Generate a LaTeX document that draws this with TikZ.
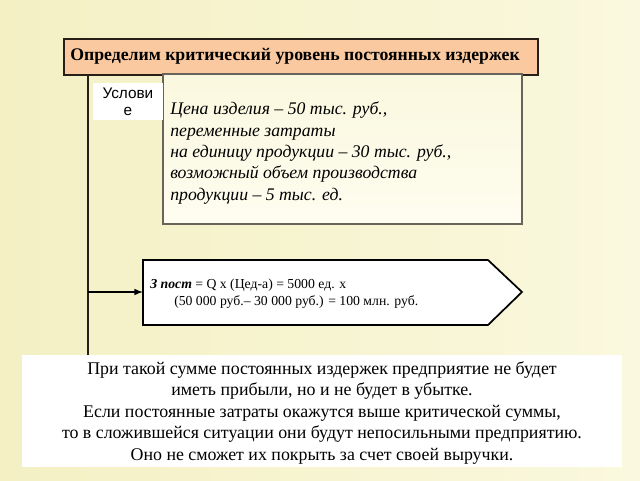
\documentclass[tikz,border=0pt]{standalone}
\usepackage{fontspec}
\setmainfont{Liberation Serif}
\newfontfamily\sansru{Liberation Sans}
\usepackage{tikz}

\definecolor{bgyellow}{RGB}{244,240,196}
\definecolor{bglight}{RGB}{250,248,222}
\definecolor{peach}{RGB}{250,201,160}
\definecolor{creamtop}{RGB}{250,248,222}
\definecolor{creambot}{RGB}{254,253,240}
\definecolor{frame}{RGB}{40,32,24}
\definecolor{greyframe}{RGB}{105,100,90}

\tikzset{
  titlebox/.style={draw=frame, line width=1.5pt, fill=peach, anchor=north west, inner sep=0pt},
  labelbox/.style={fill=white, anchor=north west, inner sep=0pt, align=center, font=\sansru\fontsize{11.5}{12.5}\selectfont},
  bodytext/.style={anchor=north west, inner sep=0pt, align=left},
}

\begin{document}
\begin{tikzpicture}[x=0.75pt,y=0.75pt,yscale=-1,xscale=1]
        %background
        \shade [left color=bgyellow, right color=bglight] (0,0) rectangle (640,480);
        \useasboundingbox (0,0) rectangle (640,480);

        % Title
        \node [titlebox, minimum width=355.5pt, minimum height=27pt] (title) at (63,38) {};
        \node [anchor=west, inner sep=0pt, font=\bfseries\fontsize{13.3}{15}\selectfont] (titletext) at (70,56) {Определим критический уровень постоянных издержек};

        % Condition box
        \shade [top color=creamtop, bottom color=creambot, draw=greyframe, line width=0.9pt] (163,74) rectangle (522,224);
        \node [bodytext, font=\itshape\fontsize{13.3}{16}\selectfont] (cond) at (170,102) {Цена изделия -- 50 тыс. руб.,\\ переменные затраты\\ на единицу продукции -- 30 тыс. руб.,\\ возможный объем производства\\ продукции -- 5 тыс. ед.};

        % Label
        \node [labelbox, minimum width=52pt, minimum height=27.75pt] (usl) at (93,83) {Услови\\е};

        % Spine
        \coordinate (spineTop) at (88,74);
        \coordinate (spineMid) at (88,292);
        \coordinate (spineBot) at (88,355);
        \draw [line width=1.2pt, frame] (spineTop) -- (spineBot);

        % Pentagon
        \coordinate (penL) at (143,292);
        \draw [line width=1.3pt, fill=white] (143,260) -- (488,260) -- (522,292) -- (488,325) -- (143,325) -- cycle;
        \node [bodytext, font=\fontsize{10.3}{12.75}\selectfont] (formula) at (150,279) {\textbf{\textit{З пост}} = Q x (Цед-а) = 5000 ед. x\\ \hspace*{18pt}(50 000 руб.-- 30 000 руб.) = 100 млн. руб.};
        \draw [line width=1.2pt, -latex] (spineMid) -- (penL);

        % Bottom box
        \fill [white] (22,355) rectangle (622,467);
        \node [anchor=north, inner sep=0pt, align=center, font=\fontsize{13.4}{16.2}\selectfont] (concl) at (322,361) {При такой сумме постоянных издержек предприятие не будет\\ иметь прибыли, но и не будет в убытке.\\ Если постоянные затраты окажутся выше критической суммы,\\ то в сложившейся ситуации они будут непосильными предприятию.\\ Оно не сможет их покрыть за счет своей выручки.};
\end{tikzpicture}
\end{document}
